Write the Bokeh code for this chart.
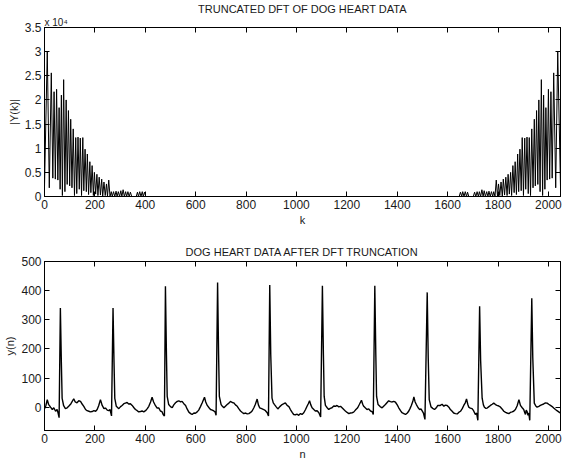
from bokeh.plotting import figure
from bokeh.layouts import column
from bokeh.models import LinearAxis, FixedTicker, Title, Range1d
from bokeh.embed import file_html
from bokeh.resources import INLINE

FONT = "Liberation Sans"
TXT = "#1a1a1a"

# ---------------- data: |Y(k)| of truncated DFT ----------------
# left half (k, magnitude) vertices: peaks at harmonics and troughs between
k_left = [0, 11, 19, 27, 33, 38, 43, 48, 53, 58, 62, 67, 71, 76, 81, 86, 90, 95, 100,
          104, 109, 114, 119, 124, 128, 133, 138, 142, 147, 152, 156, 161, 166, 170,
          175, 180, 184, 189, 194, 198, 203, 208, 212, 217, 222, 227, 231, 236, 241,
          246, 250, 255, 260, 265, 269, 274, 279, 284, 288, 293, 298, 303, 307, 312,
          317, 322, 326, 331, 336, 341, 346, 364, 369, 373, 378, 383, 388, 392, 397, 402]
mag_left = [2000, 30000, 1800, 25600, 3800, 21700, 3600, 22200, 3400, 18400, 1500,
            21000, 200, 24200, 1000, 20000, 2500, 17800, 2200, 16000, 1800, 14000, 200,
            12200, 600, 12300, 1500, 12100, 200, 12200, 1200, 9800, 1000, 8800, 400,
            7200, 800, 6400, 200, 5000, 500, 4600, 200, 4000, 300, 3600, 0, 3000, 200,
            2600, 0, 3400, 0, 1000, 0, 1000, 0, 1100, 0, 1000, 0, 1200, 0, 1400, 0,
            1000, 0, 1000, 0, 900, 0, 0, 900, 0, 1000, 0, 1000, 0, 900, 0]
# right half (mirror image in the picture)
k_right = [1646, 1651, 1656, 1660, 1665, 1670, 1675, 1679, 1684, 1702, 1707, 1712,
           1717, 1722, 1726, 1731, 1736, 1741, 1745, 1750, 1755, 1760, 1764, 1769,
           1774, 1779, 1783, 1788, 1793, 1798, 1802, 1807, 1812, 1817, 1821, 1826,
           1831, 1836, 1840, 1845, 1850, 1854, 1859, 1864, 1868, 1873, 1878, 1882,
           1887, 1892, 1896, 1901, 1906, 1910, 1915, 1920, 1924, 1929, 1934, 1939,
           1944, 1948, 1953, 1958, 1962, 1967, 1972, 1977, 1981, 1986, 1990, 1995,
           2000, 2005, 2010, 2015, 2021, 2029, 2037, 2048]
mag_right = [0, 900, 0, 1000, 0, 1000, 0, 900, 0, 0, 900, 0, 1000, 0, 1000, 0, 1400,
             0, 1200, 0, 1000, 0, 1100, 0, 1000, 0, 1000, 0, 3400, 0, 2600, 200, 3000,
             0, 3600, 300, 4000, 200, 4600, 500, 5000, 200, 6400, 800, 7200, 400, 8800,
             1000, 9800, 1200, 12200, 200, 12100, 1500, 12300, 600, 12200, 200, 14000,
             1800, 16000, 2200, 17800, 2500, 20000, 1000, 24200, 200, 21000, 1500,
             18400, 3400, 22200, 3600, 21700, 3800, 25600, 1800, 30000, 2000]
k_all = k_left + [1640] + k_right
mag_all = mag_left + [0] + mag_right

k_ticks = [0, 200, 400, 600, 800, 1000, 1200, 1400, 1600, 1800, 2000]
mag_ticks = [0, 5000, 10000, 15000, 20000, 25000, 30000, 35000]
mag_tick_labels = ["0", "0.5", "1", "1.5", "2", "2.5", "3", "3.5"]

# ---------------- data: y(n) after truncation ----------------
n_vals = [0, 5, 11, 16, 24, 31, 37, 44, 50, 54, 58, 63, 67, 70, 76, 83, 90, 96, 105,
          116, 122, 129, 136, 143, 150, 156, 163, 169, 176, 182, 189, 196, 203, 209,
          215, 222, 229, 236, 242, 249, 255, 260, 266, 272, 276, 279, 285, 295, 302,
          308, 315, 321, 328, 334, 341, 348, 355, 361, 368, 374, 381, 387, 394, 401,
          408, 414, 421, 427, 433, 440, 447, 454, 460, 466, 471, 476, 480, 484, 487,
          493, 500, 507, 513, 520, 527, 533, 540, 546, 553, 560, 566, 573, 580, 586,
          593, 599, 606, 612, 619, 626, 635, 640, 646, 653, 659, 666, 672, 677, 681,
          687, 691, 694, 701, 707, 712, 719, 725, 732, 738, 745, 751, 758, 765, 771,
          778, 785, 791, 798, 805, 811, 818, 824, 831, 837, 844, 849, 854, 862, 870,
          877, 884, 889, 894, 898, 903, 908, 913, 919, 926, 934, 943, 950, 956, 963,
          970, 976, 983, 989, 996, 1003, 1009, 1016, 1022, 1029, 1036, 1042, 1047,
          1052, 1057, 1062, 1069, 1075, 1082, 1089, 1096, 1103, 1107, 1110, 1115,
          1122, 1128, 1134, 1141, 1148, 1155, 1161, 1168, 1175, 1181, 1188, 1194,
          1201, 1208, 1214, 1221, 1227, 1234, 1243, 1250, 1258, 1263, 1267, 1274,
          1280, 1287, 1294, 1300, 1305, 1311, 1315, 1318, 1324, 1332, 1340, 1347,
          1353, 1360, 1366, 1373, 1380, 1386, 1393, 1400, 1406, 1413, 1419, 1426,
          1433, 1440, 1446, 1451, 1456, 1462, 1466, 1471, 1476, 1483, 1489, 1494,
          1499, 1504, 1510, 1519, 1523, 1527, 1534, 1541, 1548, 1555, 1561, 1571,
          1578, 1585, 1591, 1598, 1605, 1611, 1618, 1624, 1631, 1638, 1644, 1651,
          1658, 1664, 1670, 1675, 1680, 1684, 1690, 1697, 1703, 1710, 1715, 1720,
          1727, 1731, 1737, 1742, 1746, 1752, 1757, 1764, 1770, 1777, 1783, 1790,
          1796, 1803, 1810, 1816, 1823, 1830, 1836, 1843, 1849, 1856, 1862, 1869,
          1876, 1883, 1889, 1896, 1902, 1906, 1909, 1912, 1915, 1919, 1922, 1926,
          1934, 1938, 1944, 1950, 1955, 1962, 1968, 1975, 1981, 1988, 1995, 2001,
          2008, 2015, 2021, 2028, 2034, 2041, 2047]
y_vals = [-5, 4, 26, 10, 0, -8, -2, -14, -8, -20, -36, 340, 150, 30, 5, -5, -2, 3, 12,
          29, 18, 15, 22, 20, 10, 3, -8, -12, -14, -16, -15, -12, -14, -8,
          5, 26, 6, -5, -3, -10, -12, -8, -30, 340, 150, 30, 3, -5, 2,
          6, 12, 14, 16, 11, 12, 6, -2, -8, -12, -16, -15, -13, -16, -12,
          -5, 3, 18, 34, 18, 6, -3, -3, -13, -15, -25, -30, 415, 180, 37,
          9, 2, -2, 8, 15, 20, 22, 18, 20, 12, 6, -6, -17, -22, -25,
          -20, -21, -16, -10, 2, 15, 34, 18, 6, -2, -8, -10, -13, -16, -28,
          428, 180, 37, 9, 2, -2, 4, 9, 14, 20, 16, 15, 8, 3, -5,
          -13, -18, -22, -20, -23, -22, -18, -13, -2, 10, 28, 8, -2, -5, -8,
          -12, -19, -30, 419, 180, 31, 15, 9, 2, -6, 2, 9, 12, 15, 6,
          2, -8, -18, -25, -26, -24, -28, -22, -25, -19, -8, 3, 12,
          22, 8, -2, -8, -13, -12, -19, -34, 417, 180, 37, 6,
          -2, -8, -4, -2, 4, 3, 6, 1, 3, -2, -8, -13,
          -18, -22, -20, -19, -17, -10, -2, 10, 24, 10, 3, -3,
          -8, -6, -13, -15, -25, 417, 180, 37, 9, 2, -2, 4,
          9, 16, 22, 19, 18, 20, 17, 8, -2, -12, -19, -22,
          -25, -20, -13, -4, 6, 20, 35, 18, 9, -2, -8, -6,
          -13, -20, -42, 394, 170, 26, 1, -4, -8, -2, 6, 6,
          10, 3, 7, 6, 0, -8, -14, -20, -22, -23, -18, -14,
          -5, 6, 15, 28, 10, 0, -3, -5, -12, -25, -20, -45,
          346, 160, 31, 8, 0, -4, -3, 2, 6, 10, 14, 9,
          6, 4, 0, -6, -14, -18, -20, -22, -18, -16, -14, -8,
          5, 26, 6, -2, -8, -18, -25, -10, -14, -28, -20, -45,
          374, 170, 14, 4, 0, 3, 6, 9, 11, 15, 14, 10,
          6, 2, -3, -8, -12, -16, -20]

n_ticks = [0, 200, 400, 600, 800, 1000, 1200, 1400, 1600, 1800, 2000]
y_ticks = [0, 100, 200, 300, 400, 500]


def style(p, xticks, yticks, ylabels=None, title_standoff=4):
    p.outline_line_color = "black"
    p.outline_line_width = 1
    p.xgrid.visible = False
    p.ygrid.visible = False
    p.background_fill_color = "white"
    p.border_fill_color = "white"
    p.add_layout(LinearAxis(), "above")
    p.add_layout(LinearAxis(), "right")
    xaxes = [p.below[0], p.above[0]]
    yaxes = [p.left[0], p.right[0]]
    for ax in xaxes:
        ax.ticker = FixedTicker(ticks=xticks)
    for ax in yaxes:
        ax.ticker = FixedTicker(ticks=yticks)
    if ylabels:
        p.left[0].major_label_overrides = {t: l for t, l in zip(yticks, ylabels)}
    for ax in xaxes + yaxes:
        ax.major_tick_in = 5
        ax.major_tick_out = 0
        ax.minor_tick_line_color = None
        ax.axis_line_color = "black"
        ax.major_tick_line_color = "black"
        ax.major_label_text_font = FONT
        ax.major_label_text_font_size = "12px"
        ax.major_label_text_color = TXT
        ax.axis_label_text_font = FONT
        ax.axis_label_text_font_size = "11px"
        ax.axis_label_text_font_style = "normal"
        ax.axis_label_text_color = TXT
        ax.major_label_standoff = 3
        ax.axis_label_standoff = 2
    # top and right axes: tick marks only, no labels drawn
    for ax in [p.above[0], p.right[0]]:
        ax.major_label_text_font_size = "0px"
        ax.major_label_text_color = None
        ax.major_label_text_alpha = 0
        ax.major_label_standoff = 0
        ax.axis_label_standoff = 0
    p.title.align = "center"
    p.title.text_font = FONT
    p.title.text_font_size = "11px"
    p.title.text_font_style = "normal"
    p.title.text_color = TXT
    p.title.standoff = title_standoff


p1 = figure(width=563, height=228, output_backend="svg", toolbar_location=None,
            x_range=Range1d(0, 2048), y_range=Range1d(0, 35000),
            title="TRUNCATED DFT OF DOG HEART DATA",
            min_border_left=44, min_border_right=3, min_border_top=24, min_border_bottom=31)
p1.line(k_all, mag_all, line_color="black", line_width=1)
style(p1, k_ticks, mag_ticks, mag_tick_labels, title_standoff=0)
p1.below[0].axis_label = "k"
p1.left[0].axis_label = "|Y(k)|"
p1.add_layout(Title(text="x 10\u2074", align="left", text_font=FONT, text_font_size="10px",
                    text_font_style="normal", text_color=TXT, standoff=0), "above")

p2 = figure(width=563, height=234, output_backend="svg", toolbar_location=None,
            x_range=Range1d(0, 2048), y_range=Range1d(-80, 500),
            title="DOG HEART DATA AFTER DFT TRUNCATION",
            min_border_left=44, min_border_right=3, min_border_top=33, min_border_bottom=29)
p2.line(n_vals, y_vals, line_color="black", line_width=1.4)
style(p2, n_ticks, y_ticks, title_standoff=8)
p2.below[0].axis_label = "n"
p2.left[0].axis_label = "y(n)"

layout = column(p1, p2)
open("out.html", "w").write(file_html(layout, INLINE))
